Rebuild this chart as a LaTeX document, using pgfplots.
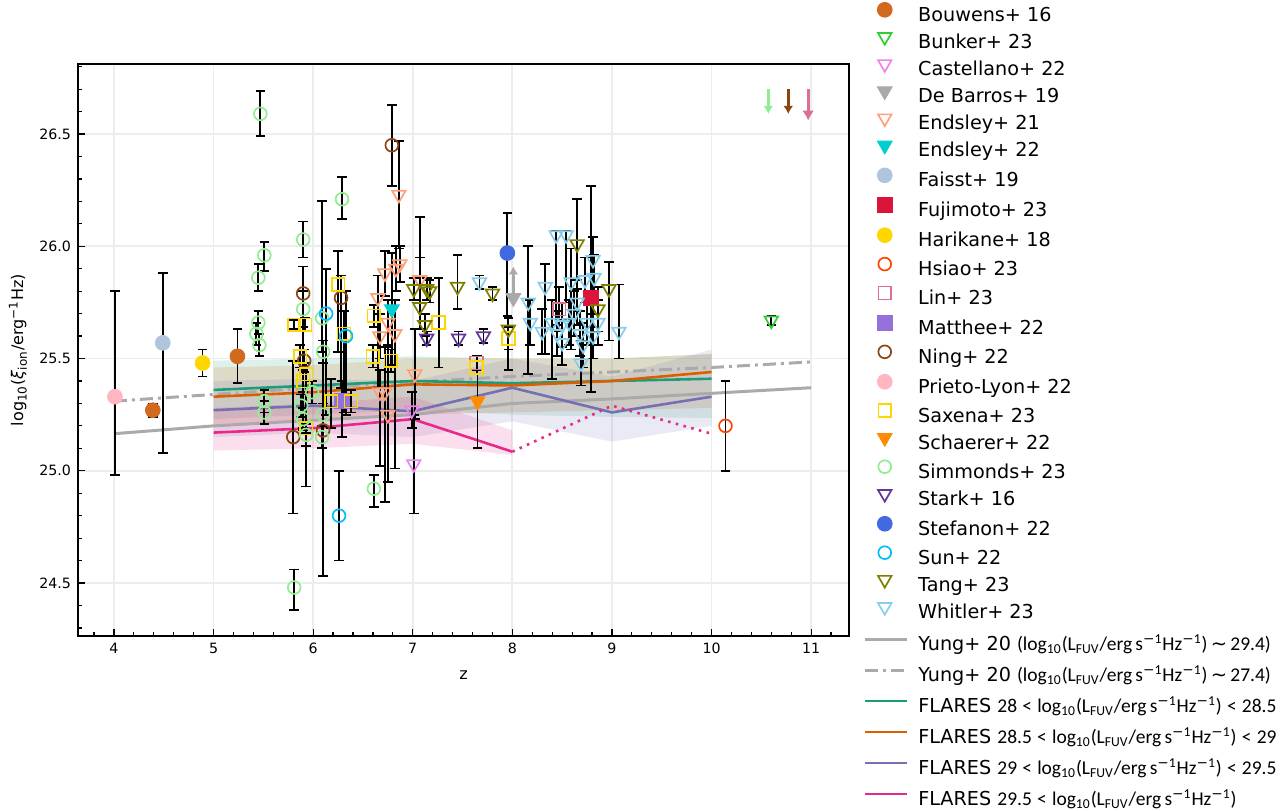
\documentclass[border=0pt]{standalone}
\usepackage{fontspec}
\setmainfont{DejaVu Sans}
\newfontfamily\mfont{Carlito}
\newfontfamily\dejavu{DejaVu Sans}
\usepackage{pgfplots}
\pgfplotsset{compat=1.18}
\usetikzlibrary{arrows.meta}

\definecolor{cBouwens}{HTML}{D2691E}
\definecolor{cBunker}{HTML}{32CD32}
\definecolor{cCast}{HTML}{EE82EE}
\definecolor{cDeB}{HTML}{A9A9A9}
\definecolor{cEnd}{HTML}{FFA07A}
\definecolor{cEndb}{HTML}{00CED1}
\definecolor{cFaisst}{HTML}{B0C4DE}
\definecolor{cFuji}{HTML}{DC143C}
\definecolor{cGold}{HTML}{FFD700}
\definecolor{cHsiao}{HTML}{FF4500}
\definecolor{cLin}{HTML}{DB7093}
\definecolor{cMatt}{HTML}{9370DB}
\definecolor{cNing}{HTML}{8B4513}
\definecolor{cPrieto}{HTML}{FFB6C1}
\definecolor{cSchaerer}{HTML}{FF8C00}
\definecolor{cSimm}{HTML}{90EE90}
\definecolor{cStark}{HTML}{663399}
\definecolor{cStef}{HTML}{4169E1}
\definecolor{cSun}{HTML}{00BFFF}
\definecolor{cTang}{HTML}{808000}
\definecolor{cWhit}{HTML}{87CEEB}
\definecolor{cYung}{HTML}{AAAAAA}
\definecolor{fA}{HTML}{1B9E77}
\definecolor{fB}{HTML}{D95F02}
\definecolor{fC}{HTML}{7570B3}
\definecolor{fD}{HTML}{E7298A}

\newcommand{\mi}{{\dejavu −}}
\newcommand{\LF}{log\textsubscript{10}(L\textsubscript{FUV}/erg\,s\textsuperscript{\mi1}Hz\textsuperscript{\mi1})}
\newcommand{\mt}[1]{{\fontsize{9.75}{11}\selectfont\mfont #1}}
\newcommand{\lt}{\hspace{2.6pt}<\hspace{2.6pt}}
\newcommand{\pe}[1]{\addlegendentry{\hspace*{13pt}#1}}
\newcommand{\pl}[1]{\addlegendentry{\hspace*{5pt}#1}}

\pgfplotsset{
  eb/.style={error bars/.cd, y dir=both, y explicit,
    error bar style={black, line width=0.9pt},
    error mark options={black, line width=0.9pt, mark size=2.4pt, rotate=90},
    /pgfplots/.cd,
    legend image code/.code={\path[mark repeat=2,mark phase=2,##1,draw=none] plot coordinates {(0pt,3.2pt) (10.5pt,3.2pt) (21pt,3.2pt)};}},
  ocirc/.style={only marks, mark=o, color=#1, mark size=3.2pt, mark options={line width=0.85pt}, eb},
  fcirc/.style={only marks, mark=*, color=#1, mark size=3.7pt, mark options={draw=#1, fill=#1}, eb},
  osq/.style={only marks, mark=square, color=#1, mark size=3.2pt, mark options={line width=0.85pt}, eb},
  fsq/.style={only marks, mark=square*, color=#1, mark size=3.7pt, mark options={draw=#1, fill=#1}, eb},
  otri/.style={only marks, mark=triangle, color=#1, mark size=3.9pt, mark options={rotate=180, line width=0.85pt}, eb},
  ftri/.style={only marks, mark=triangle*, color=#1, mark size=4.3pt, mark options={rotate=180, draw=#1, fill=#1}, eb},
}

\begin{document}
\begin{tikzpicture}
\begin{axis}[
  scale only axis, width=385.5pt, height=286pt,
  xmin=3.639, xmax=11.38, ymin=24.264, ymax=26.812,
  xtick={4,5,6,7,8,9,10,11}, ytick={24.5,25,25.5,26,26.5},
  minor xtick={3.8,4.2,4.4,4.6,4.8,5.2,5.4,5.6,5.8,6.2,6.4,6.6,6.8,7.2,7.4,7.6,7.8,8.2,8.4,8.6,8.8,9.2,9.4,9.6,9.8,10.2,10.4,10.6,10.8,11.2},
  minor ytick={24.3,24.4,24.6,24.7,24.8,24.9,25.1,25.2,25.3,25.4,25.6,25.7,25.8,25.9,26.1,26.2,26.3,26.4,26.6,26.7,26.8},
  tick align=inside, tick pos=left,
  major tick length=3.5pt, minor tick length=2pt,
  every tick/.style={black, line width=0.6pt},
  xmajorgrids, ymajorgrids,
  major grid style={black!7, line width=0.9pt},
  axis line style={line width=1pt},
  /pgf/number format/assume math mode=true,
  yticklabel style={/pgf/number format/.cd, fixed, fixed zerofill, precision=1},
  tick label style={font=\fontsize{7.1}{8}\selectfont},
  xlabel={z},
  ylabel={log\textsubscript{10}(\textit{ξ}\textsubscript{ion}/erg\textsuperscript{−1}Hz)},
  label style={font=\fontsize{8}{9}\selectfont},
  xlabel style={at={(axis description cs:0.5,-0.068)}, anchor=center},
  ylabel style={at={(axis description cs:-0.078,0.5)}, anchor=center},
  legend style={at={(axis description cs:1.0362,1.1084)}, anchor=north west, draw=none, fill=none,
    inner sep=0pt, font=\fontsize{9.6}{11}\selectfont, row sep=2.56pt,
    nodes={inner xsep=0pt, inner ysep=0pt, text height=8pt, text depth=3pt}},
  legend cell align=left,
]
% ---------- FLARES bands ----------
\addplot[forget plot, draw=none, fill=fA, fill opacity=0.15] coordinates {(5,25.49)(6,25.50)(7,25.51)(8,25.50)(9,25.50)(10,25.52)(10,25.235)(9,25.24)(8,25.25)(7,25.27)(6,25.25)(5,25.23)} -- cycle;
\addplot[forget plot, draw=none, fill=fB, fill opacity=0.15] coordinates {(5,25.46)(6,25.47)(7,25.50)(8,25.50)(9,25.50)(10,25.52)(10,25.28)(9,25.27)(8,25.26)(7,25.25)(6,25.22)(5,25.20)} -- cycle;
\addplot[forget plot, draw=none, fill=fC, fill opacity=0.15] coordinates {(5,25.40)(6,25.41)(7,25.40)(8,25.50)(9,25.42)(10,25.54)(10,25.20)(9,25.13)(8,25.22)(7,25.15)(6,25.17)(5,25.15)} -- cycle;
\addplot[forget plot, draw=none, fill=fD, fill opacity=0.15] coordinates {(5,25.28)(6,25.30)(7,25.33)(8,25.18)(8,25.07)(7,25.12)(6,25.10)(5,25.09)} -- cycle;
% ---------- lines ----------
\addplot[forget plot, color=cYung, line width=1.5pt] coordinates {(4,25.165)(5,25.20)(6,25.225)(7,25.25)(8,25.30)(9,25.32)(10,25.345)(11,25.37)};
\addplot[forget plot, color=cYung, line width=1.5pt, dash pattern=on 6.5pt off 2.5pt on 1.5pt off 2.5pt] coordinates {(4,25.31)(5,25.34)(6,25.37)(7,25.395)(8,25.42)(9,25.44)(10,25.46)(11,25.485)};
\addplot[forget plot, color=fA, line width=1.3pt] coordinates {(5,25.36)(6,25.38)(7,25.40)(8,25.39)(9,25.40)(10,25.41)};
\addplot[forget plot, color=fB, line width=1.3pt] coordinates {(5,25.33)(6,25.35)(7,25.385)(8,25.38)(9,25.40)(10,25.44)};
\addplot[forget plot, color=fC, line width=1.3pt] coordinates {(5,25.27)(6,25.29)(7,25.265)(8,25.37)(9,25.26)(10,25.33)};
\addplot[forget plot, color=fD, line width=1.3pt] coordinates {(5,25.17)(6,25.19)(7,25.23)(8,25.085)};
\addplot[forget plot, color=fD, line width=1.3pt, dash pattern=on 1.3pt off 2.7pt] coordinates {(8,25.085)(9,25.29)(10,25.165)};
% ---------- arrows ----------
\addplot[forget plot, color=cDeB, line width=1.4pt, -{Latex[length=4pt,width=5pt]}, quiver={u=\thisrow{u},v=\thisrow{v}}] table[row sep=\\] {x y u v\\ 8.01 25.78 0 0.13\\};
\addplot[forget plot, color=cSimm, line width=1.4pt, -{Latex[length=4pt,width=5pt]}, quiver={u=\thisrow{u},v=\thisrow{v}}] table[row sep=\\] {x y u v\\ 10.57 26.70 0 -0.11\\};
\addplot[forget plot, color=cNing, line width=1.4pt, -{Latex[length=4pt,width=5pt]}, quiver={u=\thisrow{u},v=\thisrow{v}}] table[row sep=\\] {x y u v\\ 10.77 26.70 0 -0.11\\};
\addplot[forget plot, color=cLin, line width=1.4pt, -{Latex[length=5pt,width=6pt]}, quiver={u=\thisrow{u},v=\thisrow{v}}] table[row sep=\\] {x y u v\\ 10.97 26.70 0 -0.14\\};
% ---------- data ----------
\addplot[fcirc=cBouwens] table[x=x,y=y,y error plus=ep,y error minus=em,row sep=\\] {x y ep em\\
4.39 25.27 0.03 0.03\\ 5.24 25.51 0.12 0.12\\};
\pe{Bouwens+ 16}
\addplot[otri=cBunker] table[x=x,y=y,y error plus=ep,y error minus=em,row sep=\\] {x y ep em\\
10.6 25.67 0.02 0.02\\};
\pe{Bunker+ 23}
\addplot[otri=cCast] table[x=x,y=y,y error plus=ep,y error minus=em,row sep=\\] {x y ep em\\
6.99 25.27 0.08 0.08\\ 7.01 25.03 0.22 0.22\\};
\pe{Castellano+ 22}
\addplot[ftri=cDeB] table[x=x,y=y,y error plus=ep,y error minus=em,row sep=\\] {x y ep em\\
8.01 25.77 0.0 0.0\\};
\pe{De Barros+ 19}
\addplot[otri=cEnd] table[x=x,y=y,y error plus=ep,y error minus=em,row sep=\\] {x y ep em\\
6.86 26.23 0.24 0.24\\ 6.72 25.88 0.10 0.10\\ 6.83 25.90 0.10 0.10\\ 6.87 25.92 0.08 0.08\\
6.65 25.77 0.10 0.40\\ 6.75 25.66 0.10 0.10\\ 6.82 25.61 0.15 0.60\\ 6.67 25.60 0.10 0.10\\
7.07 25.85 0.10 0.10\\ 6.67 25.35 0.10 0.33\\ 6.72 25.35 0.20 0.49\\ 6.75 25.25 0.30 0.30\\
7.02 25.43 0.20 0.20\\};
\pe{Endsley+ 21}
\addplot[ftri=cEndb] table[x=x,y=y,y error plus=ep,y error minus=em,row sep=\\] {x y ep em\\
6.79 25.72 0.25 0.25\\};
\pe{Endsley+ 22}
\addplot[fcirc=cFaisst] table[x=x,y=y,y error plus=ep,y error minus=em,row sep=\\] {x y ep em\\
4.49 25.57 0.31 0.49\\};
\pe{Faisst+ 19}
\addplot[fsq=cFuji] table[x=x,y=y,y error plus=ep,y error minus=em,row sep=\\] {x y ep em\\
8.79 25.77 0.50 0.42\\};
\pe{Fujimoto+ 23}
\addplot[fcirc=cGold] table[x=x,y=y,y error plus=ep,y error minus=em,row sep=\\] {x y ep em\\
4.89 25.48 0.06 0.06\\};
\pe{Harikane+ 18}
\addplot[ocirc=cHsiao] table[x=x,y=y,y error plus=ep,y error minus=em,row sep=\\] {x y ep em\\
10.14 25.20 0.20 0.20\\};
\pe{Hsiao+ 23}
\addplot[osq=cLin] table[x=x,y=y,y error plus=ep,y error minus=em,row sep=\\] {x y ep em\\
7.64 25.48 0.03 0.03\\ 8.47 25.72 0.10 0.10\\};
\pe{Lin+ 23}
\addplot[fsq=cMatt] table[x=x,y=y,y error plus=ep,y error minus=em,row sep=\\] {x y ep em\\
6.29 25.31 0.09 0.16\\};
\pe{Matthee+ 22}
\addplot[ocirc=cNing] table[x=x,y=y,y error plus=ep,y error minus=em,row sep=\\] {x y ep em\\
6.79 26.45 0.18 0.18\\ 5.90 25.79 0.12 0.60\\ 6.28 25.77 0.10 0.40\\ 5.91 25.49 0.05 0.05\\
5.80 25.15 0.34 0.34\\ 6.10 25.18 0.30 0.65\\};
\pe{Ning+ 22}
\addplot[fcirc=cPrieto] table[x=x,y=y,y error plus=ep,y error minus=em,row sep=\\] {x y ep em\\
4.01 25.33 0.47 0.35\\};
\pe{Prieto-Lyon+ 22}
\addplot[osq=cGold] table[x=x,y=y,y error plus=ep,y error minus=em,row sep=\\] {x y ep em\\
5.81 25.65 0.02 0.02\\ 5.92 25.65 0.03 0.03\\ 6.25 25.83 0.15 0.30\\ 6.31 25.61 0.10 0.35\\
5.87 25.51 0.05 0.05\\ 5.93 25.43 0.05 0.50\\ 5.90 25.40 0.05 0.05\\ 5.93 25.19 0.02 0.02\\
6.18 25.31 0.10 0.12\\ 6.38 25.31 0.05 0.05\\ 6.61 25.69 0.05 0.05\\ 6.60 25.51 0.05 0.05\\
6.78 25.49 0.05 0.05\\ 7.26 25.66 0.20 0.20\\ 7.64 25.46 0.03 0.03\\ 7.96 25.59 0.05 0.05\\};
\pe{Saxena+ 23}
\addplot[ftri=cSchaerer] table[x=x,y=y,y error plus=ep,y error minus=em,row sep=\\] {x y ep em\\
7.65 25.31 0.20 0.21\\};
\pe{Schaerer+ 22}
\addplot[ocirc=cSimm] table[x=x,y=y,y error plus=ep,y error minus=em,row sep=\\] {x y ep em\\
5.47 26.59 0.10 0.10\\ 6.29 26.21 0.10 0.09\\ 5.90 26.03 0.08 0.08\\ 5.51 25.96 0.06 0.07\\
5.45 25.86 0.06 0.06\\ 5.90 25.72 0.08 0.08\\ 5.45 25.66 0.05 0.05\\ 5.43 25.61 0.05 0.05\\
5.46 25.56 0.05 0.05\\ 6.09 25.68 0.52 0.15\\ 6.10 25.53 0.05 0.05\\ 5.51 25.31 0.05 0.05\\
5.51 25.26 0.05 0.05\\ 5.99 25.35 0.05 0.05\\ 5.88 25.29 0.05 0.05\\ 5.90 25.23 0.05 0.05\\
5.93 25.16 0.05 0.05\\ 6.10 25.25 0.05 0.05\\ 6.09 25.15 0.05 0.05\\ 5.81 24.48 0.08 0.10\\
6.61 24.92 0.06 0.08\\};
\pe{Simmonds+ 23}
\addplot[otri=cStark] table[x=x,y=y,y error plus=ep,y error minus=em,row sep=\\] {x y ep em\\
7.14 25.59 0.03 0.03\\ 7.46 25.59 0.03 0.03\\ 7.71 25.60 0.03 0.03\\};
\pe{Stark+ 16}
\addplot[fcirc=cStef] table[x=x,y=y,y error plus=ep,y error minus=em,row sep=\\] {x y ep em\\
7.95 25.97 0.18 0.28\\};
\pe{Stefanon+ 22}
\addplot[ocirc=cSun] table[x=x,y=y,y error plus=ep,y error minus=em,row sep=\\] {x y ep em\\
6.13 25.70 0.20 0.45\\ 6.33 25.60 0.20 0.35\\ 6.26 24.80 0.20 0.20\\};
\pe{Sun+ 22}
\addplot[otri=cTang] table[x=x,y=y,y error plus=ep,y error minus=em,row sep=\\] {x y ep em\\
7.01 25.81 0.05 0.05\\ 7.14 25.81 0.05 0.05\\ 7.07 25.73 0.40 0.10\\ 7.12 25.65 0.05 0.05\\
7.17 25.80 0.05 0.05\\ 7.45 25.82 0.14 0.10\\ 7.80 25.79 0.03 0.03\\ 7.96 25.63 0.05 0.18\\
8.65 26.01 0.20 0.20\\ 8.97 25.81 0.12 0.23\\ 8.86 25.72 0.10 0.10\\};
\pe{Tang+ 23}
\addplot[otri=cWhit] table[x=x,y=y,y error plus=ep,y error minus=em,row sep=\\] {x y ep em\\
7.67 25.84 0.03 0.03\\ 8.16 25.75 0.25 0.32\\ 8.18 25.66 0.10 0.10\\ 8.33 25.82 0.10 0.30\\
8.30 25.62 0.10 0.10\\ 8.44 26.05 0.02 0.40\\ 8.54 26.05 0.02 0.30\\ 8.40 25.66 0.10 0.25\\
8.45 25.61 0.10 0.10\\ 8.50 25.57 0.10 0.10\\ 8.59 25.84 0.15 0.30\\ 8.65 25.75 0.10 0.10\\
8.57 25.66 0.10 0.10\\ 8.68 25.61 0.10 0.10\\ 8.71 25.56 0.10 0.10\\ 8.81 25.94 0.10 0.30\\
8.82 25.86 0.10 0.10\\ 8.73 25.85 0.10 0.10\\ 8.86 25.66 0.10 0.10\\ 8.75 25.66 0.10 0.10\\
8.69 25.48 0.10 0.10\\ 9.07 25.62 0.21 0.12\\ 8.81 25.60 0.10 0.10\\ 8.62 25.70 0.10 0.10\\
8.50 25.65 0.10 0.10\\};
\pe{Whitler+ 23}
\end{axis}
% ---------- second legend (model lines) ----------
\begin{axis}[
  scale only axis, width=385.5pt, height=286pt, hide axis,
  xmin=0, xmax=1, ymin=0, ymax=1,
  legend style={at={(axis description cs:1.018,0.0056)}, anchor=north west, draw=none, fill=none,
    inner sep=0pt, font=\fontsize{9.6}{11}\selectfont, row sep=3.3pt,
    nodes={inner xsep=0pt, inner ysep=0pt, text height=8.6pt, text depth=3.6pt}},
  legend cell align=left,
  legend image code/.code={\draw[#1] (0pt,3.2pt) -- (21pt,3.2pt);},
]
\addlegendimage{color=cYung, line width=1.5pt}
\pl{Yung+ 20 \mt{(\LF\,{\dejavu ∼}\,29.4)}}
\addlegendimage{color=cYung, line width=1.5pt, dash pattern=on 6.5pt off 2.5pt on 1.5pt off 2.5pt}
\pl{Yung+ 20 \mt{(\LF\,{\dejavu ∼}\,27.4)}}
\addlegendimage{color=fA, line width=1.3pt}
\pl{FLARES \mt{28\lt\LF\lt28.5}}
\addlegendimage{color=fB, line width=1.3pt}
\pl{FLARES \mt{28.5\lt\LF\lt29}}
\addlegendimage{color=fC, line width=1.3pt}
\pl{FLARES \mt{29\lt\LF\lt29.5}}
\addlegendimage{color=fD, line width=1.3pt}
\pl{FLARES \mt{29.5\lt\LF}}
\end{axis}
\pgfresetboundingbox
\path[use as bounding box] (-39pt,-87pt) rectangle (602pt,318pt);
\end{tikzpicture}
\end{document}
